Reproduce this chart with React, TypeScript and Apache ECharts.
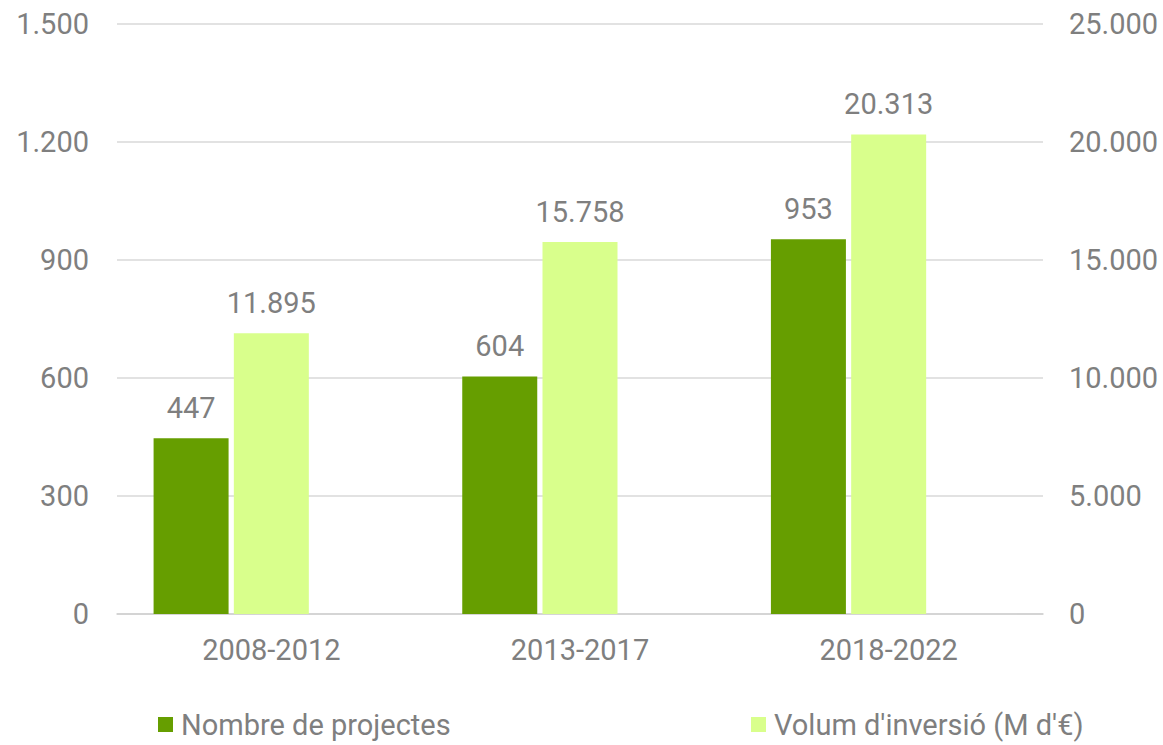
import React, { useEffect, useRef } from "react";
import * as echarts from "echarts";

const categories = ["2008-2012", "2013-2017", "2018-2022"];
const projectCounts = [447, 604, 953];
const investmentVolume = [11895, 15758, 20313];
const placeholder: (number | null)[] = [null, null, null];
const seriesNames = ["Nombre de projectes", "Volum d'inversió (M d'€)"];

const fmt = (v: number) => String(Math.round(v)).replace(/\B(?=(\d{3})+(?!\d))/g, ".");

const GREY = "#7f7f7f";
const FONT = "Roboto";
const FS = 29;

export default function App() {
  const ref = useRef<HTMLDivElement>(null);
  useEffect(() => {
    const chart = echarts.init(ref.current!, null, { renderer: "svg" });
    const legendText = { fontSize: FS, color: GREY, fontFamily: FONT, lineHeight: 28, padding: [0, 0, 0, 3] };
    chart.setOption({
      animation: false,
      textStyle: { fontFamily: FONT },
      grid: { left: 117, right: 120, top: 24, bottom: 131, containLabel: false },
      legend: [
        {
          data: [seriesNames[0]],
          left: 158,
          top: 710,
          padding: 0,
          itemWidth: 15,
          itemHeight: 15,
          icon: "rect",
          textStyle: legendText,
        },
        {
          data: [seriesNames[1]],
          left: 751,
          top: 710,
          padding: 0,
          itemWidth: 15,
          itemHeight: 15,
          icon: "rect",
          textStyle: legendText,
        },
      ],
      xAxis: {
        type: "category",
        data: categories,
        axisTick: { show: false },
        axisLine: { lineStyle: { color: "#d0d0d0", width: 1.5 } },
        axisLabel: { fontSize: FS, color: GREY, margin: 21, fontFamily: FONT },
      },
      yAxis: [
        {
          type: "value",
          min: 0,
          max: 1500,
          interval: 300,
          axisLabel: { fontSize: FS, color: GREY, margin: 28, formatter: fmt, fontFamily: FONT },
          splitLine: { lineStyle: { color: "#d9d9d9", width: 1.5 } },
          axisLine: { show: false },
          axisTick: { show: false },
        },
        {
          type: "value",
          min: 0,
          max: 25000,
          interval: 5000,
          position: "right",
          axisLabel: { fontSize: FS, color: GREY, margin: 26, formatter: fmt, fontFamily: FONT },
          splitLine: { show: false },
          axisLine: { show: false },
          axisTick: { show: false },
        },
      ],
      series: [
        {
          name: seriesNames[0],
          type: "bar",
          yAxisIndex: 0,
          data: projectCounts,
          barWidth: 75,
          barGap: "7%",
          itemStyle: { color: "#669E00" },
          label: {
            show: true,
            position: "top",
            distance: 16,
            fontSize: FS,
            color: GREY,
            fontFamily: FONT,
            formatter: (p: any) => fmt(p.value),
          },
        },
        {
          name: seriesNames[1],
          type: "bar",
          yAxisIndex: 1,
          data: investmentVolume,
          barWidth: 75,
          barGap: "7%",
          itemStyle: { color: "#D9FF8C" },
          label: {
            show: true,
            position: "top",
            distance: 16,
            fontSize: FS,
            color: GREY,
            fontFamily: FONT,
            formatter: (p: any) => fmt(p.value),
          },
        },
        {
          name: "spacer",
          type: "bar",
          yAxisIndex: 0,
          data: placeholder,
          barWidth: 75,
          barGap: "7%",
          silent: true,
          itemStyle: { color: "transparent" },
        },
      ],
    });
    return () => chart.dispose();
  }, []);
  return <div ref={ref} style={{ width: 1163, height: 745, position: "absolute", left: 0, top: 0 }} />;
}
